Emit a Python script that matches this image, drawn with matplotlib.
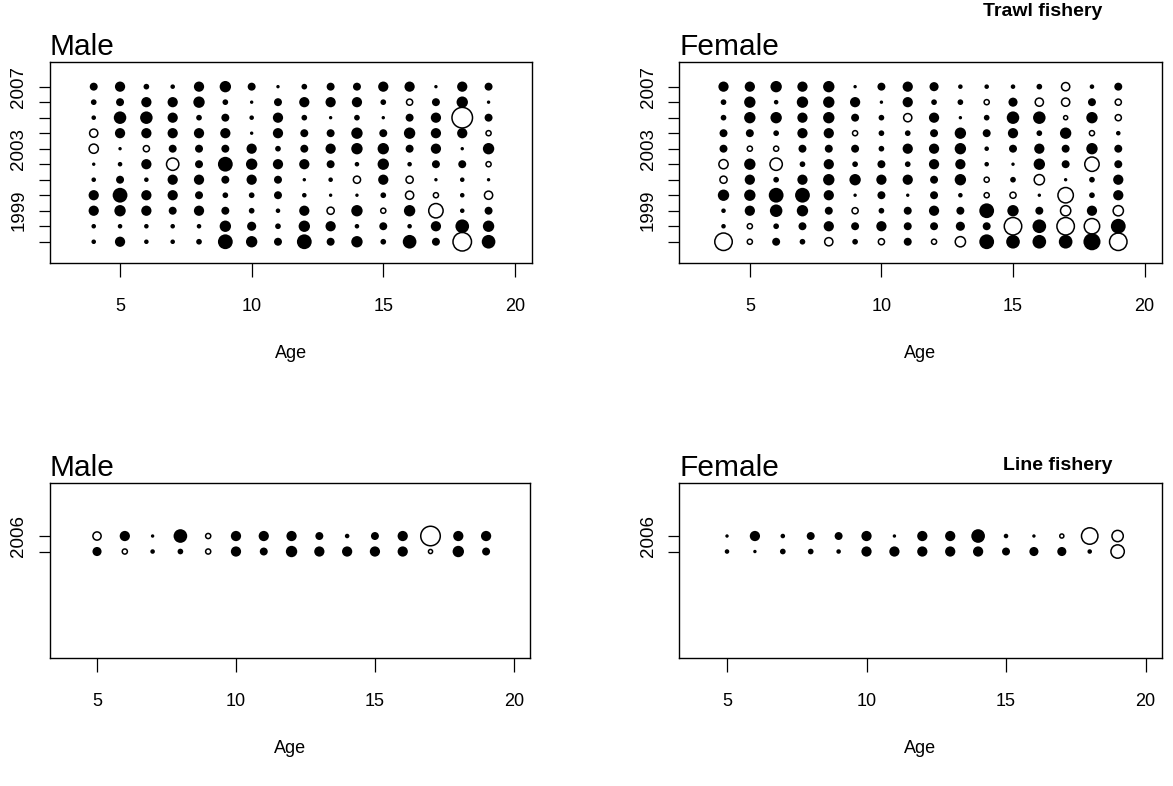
import numpy as np
import matplotlib
matplotlib.use("Agg")
import matplotlib.pyplot as plt

plt.rcParams['font.family'] = ['Liberation Sans', 'DejaVu Sans']

# Pearson-type residuals by age (rows) and year; negative = filled, positive = open
trawl_years = list(range(2007, 1996, -1))
trawl_ages = list(range(4, 20))
trawl_male = np.array([
    [-0.7, -0.5, -0.4, 0.8, 0.9, -0.3, -0.4, -0.9, -0.9, -0.4, -0.4],
    [-0.9, -0.7, -1.1, -0.9, -0.3, -0.4, -0.7, -1.3, -1.0, -0.4, -0.9],
    [-0.5, -0.9, -1.1, -0.9, 0.6, -0.9, -0.4, -0.9, -0.9, -0.4, -0.4],
    [-0.4, -0.9, -0.9, -0.9, -0.7, 1.2, -0.9, -0.9, -0.7, -0.4, -0.4],
    [-0.9, -1.0, -0.5, -0.9, -0.7, -0.7, -0.9, -0.7, -0.9, -0.4, -0.5],
    [-1.0, -0.5, -0.7, -0.9, -0.7, -1.3, -0.7, -0.5, -0.7, -1.0, -1.3],
    [-0.7, -0.3, -0.4, -0.3, -0.9, -1.0, -0.9, -0.5, -0.5, -0.8, -1.0],
    [-0.3, -0.7, -0.9, -0.9, -0.5, -0.9, -0.7, -0.7, -0.4, -0.5, -0.7],
    [-0.5, -0.9, -0.5, -0.7, -0.7, -0.9, -0.3, -0.4, -0.9, -1.0, -1.3],
    [-0.7, -0.9, -0.3, -0.7, -0.9, -0.7, -0.4, -0.3, 0.7, -0.9, -0.7],
    [-0.7, -0.9, -0.5, -1.0, -1.0, -0.4, 0.7, -0.3, -1.0, -0.4, -1.0],
    [-0.9, -0.5, -0.3, -0.7, -1.0, -1.0, -0.9, -0.5, 0.5, -0.7, -0.5],
    [-0.9, 0.6, -0.7, -1.0, -0.7, -0.4, 0.7, 0.8, -1.0, -0.4, -1.2],
    [-0.3, -0.7, -0.9, -0.9, -0.9, -0.7, -0.3, 0.5, 1.4, -0.9, -0.7],
    [-0.9, -1.0, 2.0, -0.9, -0.3, -0.7, -0.4, -0.4, -0.4, -1.2, 1.8],
    [-0.7, -0.3, -0.7, 0.5, -1.0, 0.5, -0.3, 0.8, -0.7, -1.0, -1.2],
])
trawl_female = np.array([
    [-0.9, -0.5, -0.5, -0.7, -0.7, 0.9, 0.7, -1.0, -0.4, -0.4, 1.7],
    [-0.9, -1.0, -1.0, -0.7, 0.5, -1.0, -0.9, -1.0, -0.9, 0.5, 0.5],
    [-1.0, -0.4, -1.0, -0.5, 0.5, 1.2, -0.5, -1.3, -1.1, -0.5, -0.7],
    [-0.9, -1.0, -0.9, -0.9, -0.7, -0.5, -0.9, -1.3, -1.0, -0.7, -0.5],
    [-1.0, -1.0, -1.0, -0.9, -0.7, -0.9, -1.0, -0.9, -0.7, -0.9, 0.8],
    [-0.3, -0.9, -0.7, 0.5, -0.7, -0.5, -1.0, -0.3, 0.6, -0.7, -0.5],
    [-0.7, -0.3, -0.5, -0.5, -0.5, -0.7, -0.9, -0.7, -0.5, -0.9, 0.6],
    [-0.9, -0.9, 0.8, -0.5, -0.9, -0.5, -0.9, -0.3, -0.7, -0.7, -0.7],
    [-0.8, -0.5, -0.9, -0.7, -0.9, -0.9, -0.7, -0.7, -0.9, -0.7, 0.5],
    [-0.4, -0.5, -0.3, -1.0, -1.0, -0.9, -1.0, -0.4, -0.7, -0.8, 1.0],
    [-0.4, 0.5, -0.5, -0.7, -0.4, -0.4, 0.5, 0.5, -1.3, -0.7, -1.3],
    [-0.4, -0.8, -1.1, -0.9, -0.7, -0.3, -0.5, 0.6, -1.0, 1.7, -1.2],
    [-0.5, 0.8, -1.1, -0.5, -0.9, -1.0, 1.0, -0.3, -0.7, -1.2, -1.2],
    [0.8, 0.8, 0.4, -1.0, -0.7, -0.7, -0.3, 1.5, 1.0, 1.7, -1.2],
    [-0.4, -0.7, -1.0, 0.5, -1.0, 1.4, -0.5, -0.5, -0.9, 1.5, -1.5],
    [-0.7, 0.6, 0.6, -0.4, -0.7, -0.7, -0.9, -0.9, 1.0, -1.3, 1.7],
])

line_years = [2006, 2005]
line_ages = list(range(5, 20))
line_male = np.array([
    [0.8, -0.8], [-0.9, 0.5], [-0.3, -0.4], [-1.2, -0.5], [0.5, 0.5],
    [-0.9, -0.9], [-0.9, -0.7], [-0.9, -1.0], [-0.7, -0.9], [-0.4, -0.9],
    [-0.7, -0.9], [-0.9, -0.9], [1.9, 0.4], [-0.9, -1.0], [-0.9, -0.7],
])
line_female = np.array([
    [-0.3, -0.4], [-0.9, -0.3], [-0.4, -0.5], [-0.7, -0.5], [-0.7, -0.4],
    [-0.9, -0.9], [-0.3, -0.9], [-0.9, -0.9], [-0.9, -0.9], [-1.2, -0.9],
    [-0.4, -0.7], [-0.3, -0.8], [0.4, -0.8], [1.6, -0.4], [1.1, 1.3],
])

W, H = 1173, 786
fig = plt.figure(figsize=(W / 100, H / 100), dpi=100)


def px_axes(x0, y0, x1, y1):
    return fig.add_axes([x0 / W, 1 - y1 / H, (x1 - x0) / W, (y1 - y0) / H])


def bubbles(ax, ages, years, resid):
    xx, yy = np.meshgrid(ages, years, indexing='ij')
    xx, yy, r = xx.ravel(), yy.ravel(), resid.ravel()
    neg = r < 0
    ax.scatter(xx[neg], yy[neg], s=(np.abs(r[neg]) * 8.2) ** 2, c='black',
               linewidths=0, zorder=3)
    ax.scatter(xx[~neg], yy[~neg], s=(r[~neg] * 7.4) ** 2, facecolors='none',
               edgecolors='black', linewidths=1.1, zorder=3)


def style(ax, title, yticks, ylabels, xlim, ylim):
    ax.set_xlim(xlim)
    ax.set_ylim(ylim)
    ax.set_xticks([5, 10, 15, 20])
    ax.set_yticks(yticks)
    ax.set_yticklabels(ylabels, rotation=90, va='center')
    ax.tick_params(axis='x', length=10, width=0.9, pad=15, labelsize=13)
    ax.tick_params(axis='y', length=8, width=0.9, pad=8, labelsize=13.5)
    for sp in ax.spines.values():
        sp.set_linewidth(1.0)
    ax.set_xlabel('Age', fontsize=13, labelpad=22)
    ax.set_title(title, loc='left', fontsize=21.5, pad=5)


top_ticks = trawl_years
top_labels = [str(y) if y in (1999, 2003, 2007) else '' for y in top_ticks]
bot_labels = ['2006', '']

top_xlim, top_ylim = (2.32, 20.65), (1995.63, 2008.59)
bot_xlim, bot_ylim = (3.29, 20.58), (1998.13, 2009.44)

ax1 = px_axes(49.5, 62, 532, 263)
bubbles(ax1, trawl_ages, trawl_years, trawl_male)
style(ax1, 'Male', top_ticks, top_labels, top_xlim, top_ylim)

ax2 = px_axes(679.3, 62, 1161.7, 263)
bubbles(ax2, trawl_ages, trawl_years, trawl_female)
style(ax2, 'Female', top_ticks, top_labels, top_xlim, top_ylim)

ax3 = px_axes(49.5, 482.7, 530, 658)
bubbles(ax3, line_ages, line_years, line_male)
style(ax3, 'Male', line_years, bot_labels, bot_xlim, bot_ylim)

ax4 = px_axes(679.3, 482.7, 1161.7, 658)
bubbles(ax4, line_ages, line_years, line_female)
style(ax4, 'Female', line_years, bot_labels, bot_xlim, bot_ylim)

fig.text(1043 / W, 1 - 12 / H, 'Trawl fishery', ha='center', va='center',
         fontsize=14, fontweight='bold')
fig.text(1058 / W, 1 - 465 / H, 'Line fishery', ha='center', va='center',
         fontsize=14, fontweight='bold')

fig.savefig('out.png', dpi=100)
